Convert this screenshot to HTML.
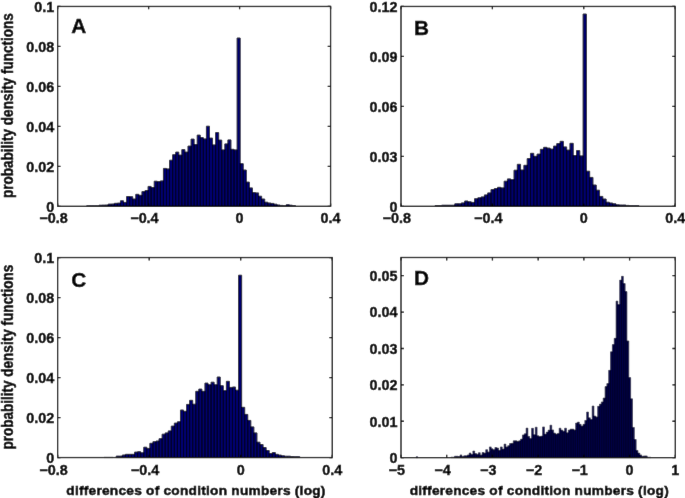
<!DOCTYPE html><html><head><meta charset="utf-8"><style>html,body{margin:0;padding:0;background:#fff;}svg{display:block;}text{font-family:"Liberation Sans",sans-serif;font-weight:bold;fill:#000;stroke:#000;stroke-width:0.4px;}</style></head><body>
<svg width="685" height="498" viewBox="0 0 685 498">
<defs><filter id="b" x="0" y="0" width="685" height="498" filterUnits="userSpaceOnUse"><feConvolveMatrix order="3" kernelMatrix="0.00276 0.04704 0.00276 0.04704 0.80077 0.04704 0.00276 0.04704 0.00276" edgeMode="duplicate"/></filter></defs><g filter="url(#b)">
<rect width="685" height="498" fill="#fff"/>
<path d="M86.67 206.30V205.85H89.74V206.30ZM89.74 206.30V205.85H92.81V206.30ZM92.81 206.30V205.85H95.88V206.30ZM95.88 206.30V205.85H98.95V206.30ZM98.95 206.30V205.20H102.02V206.30ZM102.02 206.30V205.10H105.09V206.30ZM105.09 206.30V205.00H108.16V206.30ZM108.16 206.30V204.10H111.23V206.30ZM111.23 206.30V204.00H114.30V206.30ZM114.30 206.30V203.30H117.37V206.30ZM117.37 206.30V203.10H120.44V206.30ZM120.44 206.30V200.80H123.51V206.30ZM123.51 206.30V202.40H126.58V206.30ZM126.58 206.30V196.50H129.65V206.30ZM129.65 206.30V196.70H132.72V206.30ZM132.72 206.30V199.00H135.79V206.30ZM135.79 206.30V194.30H138.86V206.30ZM138.86 206.30V195.30H141.93V206.30ZM141.93 206.30V191.60H145.00V206.30ZM145.00 206.30V190.50H148.07V206.30ZM148.07 206.30V186.40H151.14V206.30ZM151.14 206.30V187.50H154.21V206.30ZM154.21 206.30V181.20H157.28V206.30ZM157.28 206.30V181.60H160.35V206.30ZM160.35 206.30V180.90H163.42V206.30ZM163.42 206.30V168.40H166.49V206.30ZM166.49 206.30V168.90H169.56V206.30ZM169.56 206.30V160.20H172.63V206.30ZM172.63 206.30V154.70H175.70V206.30ZM175.70 206.30V152.10H178.77V206.30ZM178.77 206.30V155.10H181.84V206.30ZM181.84 206.30V149.60H184.91V206.30ZM184.91 206.30V152.10H187.98V206.30ZM187.98 206.30V146.10H191.05V206.30ZM191.05 206.30V139.10H194.12V206.30ZM194.12 206.30V144.60H197.19V206.30ZM197.19 206.30V135.10H200.26V206.30ZM200.26 206.30V137.60H203.33V206.30ZM203.33 206.30V138.90H206.40V206.30ZM206.40 206.30V126.20H209.47V206.30ZM209.47 206.30V138.10H212.54V206.30ZM212.54 206.30V144.90H215.61V206.30ZM215.61 206.30V132.60H218.68V206.30ZM218.68 206.30V140.10H221.75V206.30ZM221.75 206.30V149.90H224.82V206.30ZM224.82 206.30V143.90H227.89V206.30ZM227.89 206.30V139.90H230.96V206.30ZM230.96 206.30V149.30H234.03V206.30ZM234.03 206.30V149.90H237.10V206.30ZM237.10 206.30V38.00H240.17V206.30ZM240.17 206.30V163.70H243.24V206.30ZM243.24 206.30V170.00H246.31V206.30ZM246.31 206.30V182.10H249.38V206.30ZM249.38 206.30V187.90H252.45V206.30ZM252.45 206.30V192.60H255.52V206.30ZM255.52 206.30V192.90H258.59V206.30ZM258.59 206.30V196.20H261.66V206.30ZM261.66 206.30V199.00H264.73V206.30ZM264.73 206.30V202.20H267.80V206.30ZM267.80 206.30V203.00H270.87V206.30ZM270.87 206.30V203.40H273.94V206.30ZM273.94 206.30V204.20H277.01V206.30ZM277.01 206.30V205.00H280.08V206.30ZM280.08 206.30V205.40H283.15V206.30ZM283.15 206.30V205.70H286.22V206.30ZM286.22 206.30V204.70H289.29V206.30ZM289.29 206.30V205.20H292.36V206.30ZM292.36 206.30V205.60H295.43V206.30Z" fill="#04046e" stroke="#050520" stroke-width="0.9"/>
<rect x="57.64" y="6.46" width="272.94" height="199.84" fill="none" stroke="#000" stroke-width="1.3"/>
<path d="M57.64 206.3v-2.90M57.64 6.46v2.90M148.62 206.3v-2.90M148.62 6.46v2.90M239.60 206.3v-2.90M239.60 6.46v2.90M330.58 206.3v-2.90M330.58 6.46v2.90M57.64 206.30h2.90M330.58 206.30h-2.90M57.64 166.33h2.90M330.58 166.33h-2.90M57.64 126.36h2.90M330.58 126.36h-2.90M57.64 86.40h2.90M330.58 86.40h-2.90M57.64 46.43h2.90M330.58 46.43h-2.90M57.64 6.46h2.90M330.58 6.46h-2.90" stroke="#000" stroke-width="1.3" fill="none"/>
<text transform="translate(67.64 223.40) scale(1.02 1)" font-size="14.1" text-anchor="end">−0.8</text>
<text transform="translate(158.62 223.40) scale(1.02 1)" font-size="14.1" text-anchor="end">−0.4</text>
<text transform="translate(243.60 223.40) scale(1.02 1)" font-size="14.1" text-anchor="end">0</text>
<text transform="translate(340.58 223.40) scale(1.02 1)" font-size="14.1" text-anchor="end">0.4</text>
<text transform="translate(54.24 211.60) scale(1.02 1)" font-size="14.1" text-anchor="end">0</text>
<text transform="translate(54.24 171.63) scale(1.02 1)" font-size="14.1" text-anchor="end">0.02</text>
<text transform="translate(54.24 131.66) scale(1.02 1)" font-size="14.1" text-anchor="end">0.04</text>
<text transform="translate(54.24 91.70) scale(1.02 1)" font-size="14.1" text-anchor="end">0.06</text>
<text transform="translate(54.24 51.73) scale(1.02 1)" font-size="14.1" text-anchor="end">0.08</text>
<text transform="translate(54.24 11.76) scale(1.02 1)" font-size="14.1" text-anchor="end">0.1</text>
<text x="71.3" y="33.05" font-size="20.8">A</text>
<path d="M435.05 206.30V205.60H438.34V206.30ZM438.34 206.30V205.60H441.63V206.30ZM441.63 206.30V205.20H444.92V206.30ZM444.92 206.30V205.20H448.21V206.30ZM448.21 206.30V205.20H451.50V206.30ZM451.50 206.30V205.20H454.79V206.30ZM454.79 206.30V203.80H458.08V206.30ZM458.08 206.30V203.80H461.37V206.30ZM461.37 206.30V202.90H464.66V206.30ZM464.66 206.30V201.00H467.95V206.30ZM467.95 206.30V201.80H471.24V206.30ZM471.24 206.30V202.40H474.53V206.30ZM474.53 206.30V198.70H477.82V206.30ZM477.82 206.30V197.80H481.11V206.30ZM481.11 206.30V196.90H484.40V206.30ZM484.40 206.30V194.90H487.69V206.30ZM487.69 206.30V192.90H490.98V206.30ZM490.98 206.30V189.60H494.27V206.30ZM494.27 206.30V188.50H497.56V206.30ZM497.56 206.30V187.30H500.85V206.30ZM500.85 206.30V187.90H504.14V206.30ZM504.14 206.30V181.20H507.43V206.30ZM507.43 206.30V178.90H510.72V206.30ZM510.72 206.30V179.70H514.01V206.30ZM514.01 206.30V170.20H517.30V206.30ZM517.30 206.30V164.30H520.59V206.30ZM520.59 206.30V170.00H523.88V206.30ZM523.88 206.30V165.30H527.17V206.30ZM527.17 206.30V158.60H530.46V206.30ZM530.46 206.30V153.30H533.75V206.30ZM533.75 206.30V156.30H537.04V206.30ZM537.04 206.30V154.10H540.33V206.30ZM540.33 206.30V149.30H543.62V206.30ZM543.62 206.30V147.30H546.91V206.30ZM546.91 206.30V148.10H550.20V206.30ZM550.20 206.30V149.10H553.49V206.30ZM553.49 206.30V146.10H556.78V206.30ZM556.78 206.30V143.60H560.07V206.30ZM560.07 206.30V141.30H563.36V206.30ZM563.36 206.30V146.90H566.65V206.30ZM566.65 206.30V150.10H569.94V206.30ZM569.94 206.30V143.30H573.23V206.30ZM573.23 206.30V155.60H576.52V206.30ZM576.52 206.30V150.60H579.81V206.30ZM579.81 206.30V155.90H583.10V206.30ZM583.10 206.30V14.00H586.39V206.30ZM586.39 206.30V171.20H589.68V206.30ZM589.68 206.30V177.40H592.97V206.30ZM592.97 206.30V185.00H596.26V206.30ZM596.26 206.30V190.20H599.55V206.30ZM599.55 206.30V196.40H602.84V206.30ZM602.84 206.30V199.00H606.13V206.30ZM606.13 206.30V202.20H609.42V206.30ZM609.42 206.30V203.00H612.71V206.30ZM612.71 206.30V203.80H616.00V206.30ZM616.00 206.30V204.80H619.29V206.30ZM619.29 206.30V205.00H622.58V206.30ZM622.58 206.30V205.00H625.87V206.30ZM625.87 206.30V205.40H629.16V206.30ZM629.16 206.30V205.70H632.45V206.30ZM632.45 206.30V205.70H635.74V206.30ZM635.74 206.30V205.70H639.03V206.30Z" fill="#04046e" stroke="#050520" stroke-width="0.9"/>
<rect x="401.0" y="6.46" width="274.15" height="199.84" fill="none" stroke="#000" stroke-width="1.3"/>
<path d="M401.00 206.3v-2.90M401.00 6.46v2.90M492.38 206.3v-2.90M492.38 6.46v2.90M583.77 206.3v-2.90M583.77 6.46v2.90M675.15 206.3v-2.90M675.15 6.46v2.90M401.0 206.30h2.90M675.15 206.30h-2.90M401.0 156.34h2.90M675.15 156.34h-2.90M401.0 106.38h2.90M675.15 106.38h-2.90M401.0 56.42h2.90M675.15 56.42h-2.90M401.0 6.46h2.90M675.15 6.46h-2.90" stroke="#000" stroke-width="1.3" fill="none"/>
<text transform="translate(411.00 223.40) scale(1.02 1)" font-size="14.1" text-anchor="end">−0.8</text>
<text transform="translate(502.38 223.40) scale(1.02 1)" font-size="14.1" text-anchor="end">−0.4</text>
<text transform="translate(587.77 223.40) scale(1.02 1)" font-size="14.1" text-anchor="end">0</text>
<text transform="translate(685.15 223.40) scale(1.02 1)" font-size="14.1" text-anchor="end">0.4</text>
<text transform="translate(397.60 211.60) scale(1.02 1)" font-size="14.1" text-anchor="end">0</text>
<text transform="translate(397.60 161.64) scale(1.02 1)" font-size="14.1" text-anchor="end">0.03</text>
<text transform="translate(397.60 111.68) scale(1.02 1)" font-size="14.1" text-anchor="end">0.06</text>
<text transform="translate(397.60 61.72) scale(1.02 1)" font-size="14.1" text-anchor="end">0.09</text>
<text transform="translate(397.60 11.76) scale(1.02 1)" font-size="14.1" text-anchor="end">0.12</text>
<text x="413.9" y="35.4" font-size="20.8">B</text>
<path d="M103.96 457.55V457.40H107.02V457.55ZM107.02 457.55V457.40H110.08V457.55ZM110.08 457.55V457.40H113.14V457.55ZM116.20 457.55V456.10H119.26V457.55ZM119.26 457.55V456.10H122.32V457.55ZM122.32 457.55V455.00H125.38V457.55ZM125.38 457.55V454.30H128.44V457.55ZM128.44 457.55V454.30H131.50V457.55ZM131.50 457.55V454.30H134.56V457.55ZM134.56 457.55V452.10H137.62V457.55ZM137.62 457.55V451.70H140.68V457.55ZM140.68 457.55V452.80H143.74V457.55ZM143.74 457.55V447.20H146.80V457.55ZM146.80 457.55V448.40H149.86V457.55ZM149.86 457.55V443.30H152.92V457.55ZM152.92 457.55V441.70H155.98V457.55ZM155.98 457.55V441.00H159.04V457.55ZM159.04 457.55V438.70H162.10V457.55ZM162.10 457.55V434.20H165.16V457.55ZM165.16 457.55V432.90H168.22V457.55ZM168.22 457.55V430.90H171.28V457.55ZM171.28 457.55V426.10H174.34V457.55ZM174.34 457.55V423.10H177.40V457.55ZM177.40 457.55V421.80H180.46V457.55ZM180.46 457.55V410.00H183.52V457.55ZM183.52 457.55V411.30H186.58V457.55ZM186.58 457.55V404.40H189.64V457.55ZM189.64 457.55V400.30H192.70V457.55ZM192.70 457.55V404.20H195.76V457.55ZM195.76 457.55V391.30H198.82V457.55ZM198.82 457.55V389.10H201.88V457.55ZM201.88 457.55V391.30H204.94V457.55ZM204.94 457.55V383.10H208.00V457.55ZM208.00 457.55V384.80H211.06V457.55ZM211.06 457.55V382.20H214.12V457.55ZM214.12 457.55V384.80H217.18V457.55ZM217.18 457.55V377.00H220.24V457.55ZM220.24 457.55V385.70H223.30V457.55ZM223.30 457.55V390.70H226.36V457.55ZM226.36 457.55V381.30H229.42V457.55ZM229.42 457.55V387.40H232.48V457.55ZM232.48 457.55V387.00H235.54V457.55ZM235.54 457.55V390.20H238.60V457.55ZM238.60 457.55V275.20H241.66V457.55ZM241.66 457.55V407.30H244.72V457.55ZM244.72 457.55V414.40H247.78V457.55ZM247.78 457.55V420.40H250.84V457.55ZM250.84 457.55V426.90H253.90V457.55ZM253.90 457.55V432.90H256.96V457.55ZM256.96 457.55V442.20H260.02V457.55ZM260.02 457.55V444.50H263.08V457.55ZM263.08 457.55V447.50H266.14V457.55ZM266.14 457.55V450.50H269.20V457.55ZM269.20 457.55V453.50H272.26V457.55ZM272.26 457.55V452.50H275.32V457.55ZM275.32 457.55V454.30H278.38V457.55ZM278.38 457.55V455.10H281.44V457.55ZM281.44 457.55V455.80H284.50V457.55ZM284.50 457.55V456.20H287.56V457.55ZM287.56 457.55V456.20H290.62V457.55ZM290.62 457.55V456.50H293.68V457.55ZM293.68 457.55V456.70H296.74V457.55ZM296.74 457.55V456.70H299.80V457.55Z" fill="#04046e" stroke="#050520" stroke-width="0.9"/>
<rect x="57.64" y="257.55" width="274.61" height="200.00" fill="none" stroke="#000" stroke-width="1.3"/>
<path d="M57.64 457.55v-2.90M57.64 257.55v2.90M149.18 457.55v-2.90M149.18 257.55v2.90M240.71 457.55v-2.90M240.71 257.55v2.90M332.25 457.55v-2.90M332.25 257.55v2.90M57.64 457.55h2.90M332.25 457.55h-2.90M57.64 417.55h2.90M332.25 417.55h-2.90M57.64 377.55h2.90M332.25 377.55h-2.90M57.64 337.55h2.90M332.25 337.55h-2.90M57.64 297.55h2.90M332.25 297.55h-2.90M57.64 257.55h2.90M332.25 257.55h-2.90" stroke="#000" stroke-width="1.3" fill="none"/>
<text transform="translate(67.64 474.65) scale(1.02 1)" font-size="14.1" text-anchor="end">−0.8</text>
<text transform="translate(159.17 474.65) scale(1.02 1)" font-size="14.1" text-anchor="end">−0.4</text>
<text transform="translate(244.71 474.65) scale(1.02 1)" font-size="14.1" text-anchor="end">0</text>
<text transform="translate(342.25 474.65) scale(1.02 1)" font-size="14.1" text-anchor="end">0.4</text>
<text transform="translate(54.24 462.85) scale(1.02 1)" font-size="14.1" text-anchor="end">0</text>
<text transform="translate(54.24 422.85) scale(1.02 1)" font-size="14.1" text-anchor="end">0.02</text>
<text transform="translate(54.24 382.85) scale(1.02 1)" font-size="14.1" text-anchor="end">0.04</text>
<text transform="translate(54.24 342.85) scale(1.02 1)" font-size="14.1" text-anchor="end">0.06</text>
<text transform="translate(54.24 302.85) scale(1.02 1)" font-size="14.1" text-anchor="end">0.08</text>
<text transform="translate(54.24 262.85) scale(1.02 1)" font-size="14.1" text-anchor="end">0.1</text>
<text x="71.2" y="287.2" font-size="20.8">C</text>
<path d="M415.99 457.65V456.80H417.82V457.65ZM450.85 457.65V457.10H452.69V457.65ZM452.69 457.65V457.10H454.52V457.65ZM454.52 457.65V456.20H456.35V457.65ZM456.36 457.65V456.20H458.19V457.65ZM458.19 457.65V456.50H460.02V457.65ZM460.02 457.65V454.90H461.86V457.65ZM461.86 457.65V456.50H463.69V457.65ZM463.69 457.65V455.80H465.53V457.65ZM465.53 457.65V455.80H467.36V457.65ZM467.37 457.65V454.90H469.20V457.65ZM469.20 457.65V453.00H471.03V457.65ZM471.03 457.65V454.50H472.87V457.65ZM472.87 457.65V451.00H474.70V457.65ZM474.71 457.65V453.60H476.54V457.65ZM476.54 457.65V454.20H478.37V457.65ZM478.38 457.65V452.70H480.21V457.65ZM480.21 457.65V454.90H482.05V457.65ZM482.05 457.65V452.50H483.88V457.65ZM483.88 457.65V453.00H485.71V457.65ZM485.72 457.65V449.70H487.55V457.65ZM487.55 457.65V451.90H489.38V457.65ZM489.38 457.65V446.90H491.22V457.65ZM491.22 457.65V448.80H493.06V457.65ZM493.06 457.65V449.70H494.89V457.65ZM494.89 457.65V447.50H496.72V457.65ZM496.73 457.65V448.00H498.56V457.65ZM498.56 457.65V450.30H500.39V457.65ZM500.39 457.65V446.90H502.23V457.65ZM502.23 457.65V449.10H504.06V457.65ZM504.06 457.65V444.10H505.90V457.65ZM505.90 457.65V446.90H507.73V457.65ZM507.74 457.65V445.70H509.57V457.65ZM509.57 457.65V443.50H511.40V457.65ZM511.40 457.65V443.30H513.24V457.65ZM513.24 457.65V440.80H515.08V457.65ZM515.08 457.65V440.80H516.91V457.65ZM516.91 457.65V441.30H518.75V457.65ZM518.75 457.65V440.80H520.58V457.65ZM520.58 457.65V439.10H522.42V457.65ZM522.41 457.65V434.90H524.25V457.65ZM524.25 457.65V433.80H526.09V457.65ZM526.09 457.65V428.10H527.92V457.65ZM527.92 457.65V436.40H529.75V457.65ZM529.75 457.65V438.60H531.59V457.65ZM531.59 457.65V428.30H533.43V457.65ZM533.42 457.65V434.70H535.26V457.65ZM535.26 457.65V427.20H537.10V457.65ZM537.10 457.65V435.80H538.93V457.65ZM538.93 457.65V436.40H540.77V457.65ZM540.76 457.65V436.10H542.60V457.65ZM542.60 457.65V426.90H544.44V457.65ZM544.43 457.65V434.10H546.27V457.65ZM546.27 457.65V432.10H548.11V457.65ZM548.11 457.65V430.10H549.94V457.65ZM549.94 457.65V425.20H551.78V457.65ZM551.77 457.65V429.90H553.61V457.65ZM553.61 457.65V433.00H555.45V457.65ZM555.45 457.65V434.10H557.28V457.65ZM557.28 457.65V433.40H559.12V457.65ZM559.12 457.65V428.20H560.95V457.65ZM560.95 457.65V430.10H562.79V457.65ZM562.78 457.65V431.20H564.62V457.65ZM564.62 457.65V428.20H566.46V457.65ZM566.46 457.65V432.80H568.29V457.65ZM568.29 457.65V430.10H570.12V457.65ZM570.12 457.65V429.10H571.96V457.65ZM571.96 457.65V429.10H573.80V457.65ZM573.79 457.65V429.90H575.63V457.65ZM575.63 457.65V423.00H577.47V457.65ZM577.47 457.65V422.10H579.30V457.65ZM579.30 457.65V424.30H581.13V457.65ZM581.13 457.65V426.00H582.97V457.65ZM582.97 457.65V424.30H584.81V457.65ZM584.80 457.65V420.40H586.64V457.65ZM586.64 457.65V412.00H588.48V457.65ZM588.48 457.65V417.80H590.31V457.65ZM590.31 457.65V419.60H592.14V457.65ZM592.14 457.65V406.00H593.98V457.65ZM593.98 457.65V416.00H595.82V457.65ZM595.82 457.65V416.90H597.65V457.65ZM597.65 457.65V406.30H599.49V457.65ZM599.49 457.65V404.10H601.32V457.65ZM601.32 457.65V401.90H603.16V457.65ZM603.15 457.65V398.00H604.99V457.65ZM604.99 457.65V386.60H606.83V457.65ZM606.83 457.65V383.60H608.66V457.65ZM608.66 457.65V370.30H610.50V457.65ZM610.50 457.65V351.80H612.33V457.65ZM612.33 457.65V344.60H614.17V457.65ZM614.16 457.65V338.30H616.00V457.65ZM616.00 457.65V301.10H617.84V457.65ZM617.84 457.65V304.60H619.67V457.65ZM619.67 457.65V280.10H621.50V457.65ZM621.50 457.65V276.30H623.34V457.65ZM623.34 457.65V283.60H625.18V457.65ZM625.17 457.65V291.60H627.01V457.65ZM627.01 457.65V340.90H628.85V457.65ZM628.85 457.65V377.60H630.68V457.65ZM630.68 457.65V398.80H632.51V457.65ZM632.51 457.65V427.40H634.35V457.65ZM634.35 457.65V439.50H636.19V457.65ZM636.18 457.65V450.40H638.02V457.65ZM638.02 457.65V453.10H639.86V457.65ZM639.86 457.65V454.90H641.69V457.65ZM641.69 457.65V456.30H643.53V457.65ZM643.52 457.65V455.90H645.36V457.65ZM645.36 457.65V455.90H647.20V457.65ZM647.20 457.65V457.20H649.03V457.65ZM649.03 457.65V457.20H650.87V457.65Z" fill="#03034e" stroke="#060620" stroke-width="0.5"/>
<rect x="401.0" y="257.5" width="274.30" height="200.15" fill="none" stroke="#000" stroke-width="1.3"/>
<path d="M401.00 457.65v-2.90M401.00 257.5v2.90M446.72 457.65v-2.90M446.72 257.5v2.90M492.43 457.65v-2.90M492.43 257.5v2.90M538.15 457.65v-2.90M538.15 257.5v2.90M583.87 457.65v-2.90M583.87 257.5v2.90M629.58 457.65v-2.90M629.58 257.5v2.90M675.30 457.65v-2.90M675.30 257.5v2.90M401.0 457.65h2.90M675.3 457.65h-2.90M401.0 421.26h2.90M675.3 421.26h-2.90M401.0 384.87h2.90M675.3 384.87h-2.90M401.0 348.48h2.90M675.3 348.48h-2.90M401.0 312.09h2.90M675.3 312.09h-2.90M401.0 275.70h2.90M675.3 275.70h-2.90" stroke="#000" stroke-width="1.3" fill="none"/>
<text transform="translate(405.00 474.75) scale(1.02 1)" font-size="14.1" text-anchor="end">−5</text>
<text transform="translate(450.72 474.75) scale(1.02 1)" font-size="14.1" text-anchor="end">−4</text>
<text transform="translate(496.43 474.75) scale(1.02 1)" font-size="14.1" text-anchor="end">−3</text>
<text transform="translate(542.15 474.75) scale(1.02 1)" font-size="14.1" text-anchor="end">−2</text>
<text transform="translate(587.87 474.75) scale(1.02 1)" font-size="14.1" text-anchor="end">−1</text>
<text transform="translate(633.58 474.75) scale(1.02 1)" font-size="14.1" text-anchor="end">0</text>
<text transform="translate(679.30 474.75) scale(1.02 1)" font-size="14.1" text-anchor="end">1</text>
<text transform="translate(397.60 462.95) scale(1.02 1)" font-size="14.1" text-anchor="end">0</text>
<text transform="translate(397.60 426.56) scale(1.02 1)" font-size="14.1" text-anchor="end">0.01</text>
<text transform="translate(397.60 390.17) scale(1.02 1)" font-size="14.1" text-anchor="end">0.02</text>
<text transform="translate(397.60 353.78) scale(1.02 1)" font-size="14.1" text-anchor="end">0.03</text>
<text transform="translate(397.60 317.39) scale(1.02 1)" font-size="14.1" text-anchor="end">0.04</text>
<text transform="translate(397.60 281.00) scale(1.02 1)" font-size="14.1" text-anchor="end">0.05</text>
<text x="413.9" y="285.4" font-size="20.8">D</text>
<text transform="translate(12.85 105.60000000000001) rotate(-90) scale(1 1.18)" font-size="13.55" text-anchor="middle">probability density functions</text>
<text transform="translate(12.85 357.15) rotate(-90) scale(1 1.18)" font-size="13.55" text-anchor="middle">probability density functions</text>
<text transform="translate(196.0 494.5) scale(1 1)" font-size="13.7" letter-spacing="0.24" style="stroke-width:0.5px" text-anchor="middle">differences of condition numbers (log)</text>
<text transform="translate(539.3 494.5) scale(1 1)" font-size="13.7" letter-spacing="0.24" style="stroke-width:0.5px" text-anchor="middle">differences of condition numbers (log)</text>
</g></svg></body></html>
